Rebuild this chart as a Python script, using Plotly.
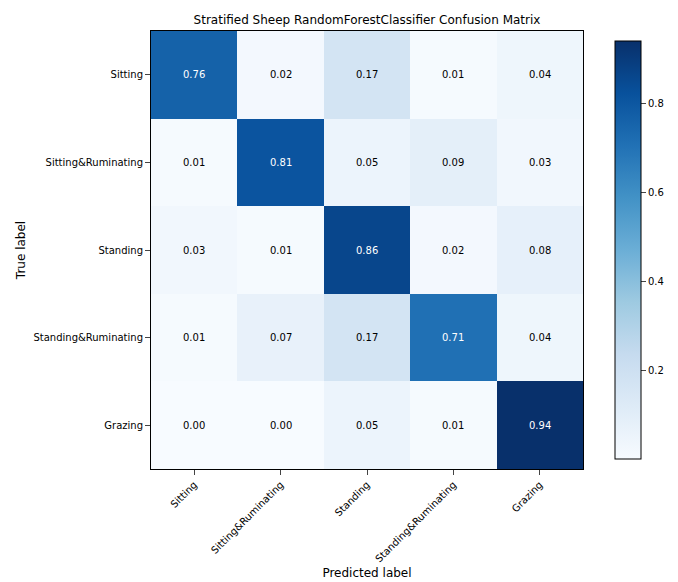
import plotly.graph_objects as go

labels = ["Sitting", "Sitting&Ruminating", "Standing", "Standing&Ruminating", "Grazing"]
z = [
    [0.76, 0.02, 0.17, 0.01, 0.04],
    [0.01, 0.81, 0.05, 0.09, 0.03],
    [0.03, 0.01, 0.86, 0.02, 0.08],
    [0.01, 0.07, 0.17, 0.71, 0.04],
    [0.00, 0.00, 0.05, 0.01, 0.94],
]
zmax = 0.94
thresh = zmax / 2

blues = [[0.0, "#f7fbff"], [0.125, "#deebf7"], [0.25, "#c6dbef"], [0.375, "#9ecae1"],
         [0.5, "#6baed6"], [0.625, "#4292c6"], [0.75, "#2171b5"], [0.875, "#08519c"], [1.0, "#08306b"]]

fig = go.Figure(go.Heatmap(
    z=z, x=labels, y=labels, colorscale=blues, zmin=0.0, zmax=zmax,
    colorbar=dict(x=1.05, xanchor="left", thickness=26, len=1, y=0.5, yanchor="middle",
                  outlinecolor="black", outlinewidth=1, tickvals=[0.2, 0.4, 0.6, 0.8],
                  ticks="outside", tickfont=dict(size=10, color="black")),
    hoverinfo="z",
))
ann = []
for i, row in enumerate(z):
    for j, v in enumerate(row):
        ann.append(dict(x=labels[j], y=labels[i], text=f"{v:.2f}", showarrow=False,
                        font=dict(size=10, color="white" if v > thresh else "black")))
fig.update_layout(
    width=678, height=582, annotations=ann,
    margin=dict(l=139, r=91, t=23, b=114),
    paper_bgcolor="white", plot_bgcolor="white",
    font=dict(family="DejaVu Sans", size=10, color="black"),
    title=dict(text="Stratified Sheep RandomForestClassifier Confusion Matrix", x=0.5, xref="paper",
               y=1 - 12/582, yanchor="middle", font=dict(size=12)),
    xaxis=dict(title=dict(text="Predicted label", standoff=5), tickangle=-45, ticks="outside",
               showline=True, linecolor="black", mirror=True, showgrid=False),
    yaxis=dict(title=dict(text="True label", standoff=5), autorange="reversed", ticks="outside",
               showline=True, linecolor="black", mirror=True, showgrid=False),
)
fig.write_html("out.html")
